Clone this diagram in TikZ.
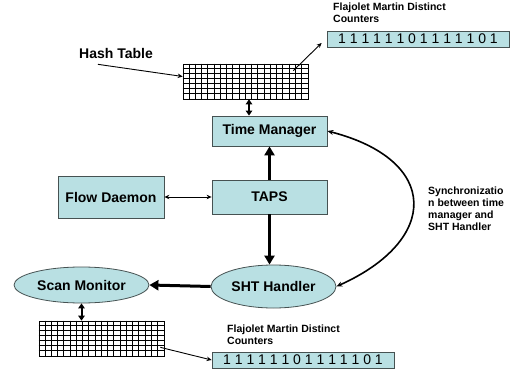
\documentclass[tikz,border=0pt]{standalone}
\usepackage{fontspec}
\setmainfont{Liberation Sans}
\usetikzlibrary{arrows.meta,shapes.geometric}
\definecolor{boxfill}{RGB}{185,224,227}
\definecolor{boxline}{RGB}{70,82,82}
\begin{document}
\begin{tikzpicture}[x=1pt,y=-1pt,
  blk/.style={draw=boxline, fill=boxfill, line width=0.8pt, inner sep=0pt,
    font=\bfseries\fontsize{14}{16}\selectfont},
  ell/.style={ellipse, draw=boxline, fill=boxfill, line width=0.8pt, inner sep=0pt,
    font=\bfseries\fontsize{14}{16}\selectfont},
  cnt/.style={draw=boxline, fill=boxfill, line width=0.8pt, inner sep=0pt,
    minimum width=182pt, minimum height=16pt, font=\fontsize{14}{16}\selectfont},
  gridbox/.style={draw=black, line width=0.7pt, fill=white, inner sep=0pt,
    minimum width=125pt, minimum height=35pt},
  lbl/.style={inner sep=0pt, align=left, anchor=north west,
    font=\bfseries\fontsize{10.5}{12}\selectfont},
  thickarrow/.style={line width=3pt, -{Triangle[length=9pt,width=10pt]}},
  dblarrow/.style={line width=2pt, {Triangle[length=5pt,width=6.5pt]}-{Triangle[length=5pt,width=6.5pt]}},
  thinarrow/.style={line width=0.9pt, -{Stealth[length=5pt,width=4.5pt]}},
  thindbl/.style={line width=0.9pt, {Stealth[length=5pt,width=4.5pt]}-{Stealth[length=5pt,width=4.5pt]}},
  curvearrow/.style={line width=1.6pt, {Stealth[length=6pt,width=5pt]}-{Stealth[length=6pt,width=5pt]}}
]
\useasboundingbox (0,0) rectangle (524,374);

% nodes
\node[blk, minimum width=115pt, minimum height=30pt] (tm) at (269.5,131) {Time Manager};
\node[blk, minimum width=115pt, minimum height=34pt] (taps) at (269.5,197) {TAPS};
\node[blk, minimum width=106pt, minimum height=42pt] (fd) at (111,197) {Flow Daemon};
\node[ell, minimum width=125pt, minimum height=43pt] (sht) at (273.5,286.5) {SHT Handler};
\node[ell, minimum width=135pt, minimum height=36pt] (scan) at (81.5,285) {Scan Monitor};

\node[gridbox] (gridT) at (245.5,81.5) {};
\node[gridbox] (gridB) at (101.5,338.5) {};
\foreach \g in {gridT,gridB}{
  \foreach \i in {1,...,19}
    \draw[line width=0.7pt] ([xshift=\i*6.25pt]\g.north west) -- ([xshift=\i*6.25pt]\g.south west);
  \foreach \j in {1,...,6}
    \draw[line width=0.7pt] ([yshift=-\j*5pt]\g.north west) -- ([yshift=-\j*5pt]\g.north east);
}

\node[cnt] (fmT) at (418,39) {1 1 1 1 1 1 0 1 1 1 1 1 0 1};
\node[cnt] (fmB) at (303,360) {1 1 1 1 1 1 0 1 1 1 1 1 0 1};

% labels
\node[inner sep=0pt, font=\bfseries\fontsize{14}{16}\selectfont] (hash) at (116,53) {Hash Table};
\node[lbl] (fmTl) at (333,3) {Flajolet Martin Distinct\\Counters};
\node[lbl] (fmBl) at (227,325) {Flajolet Martin Distinct\\Counters};
\node[lbl] (sync) at (428,187) {Synchronizatio\\n between time\\manager and\\SHT Handler};

% connectors
\draw[thinarrow] ([xshift=19pt,yshift=-6pt]hash.south west) -- ([yshift=5pt]gridT.west);
\draw[thinarrow] ([xshift=-15pt,yshift=-7pt]gridT.north east) -- ([xshift=-5pt,yshift=-4pt]fmT.west);
\draw[dblarrow] ([xshift=3.5pt]gridT.south) -- ([xshift=3.5pt]gridT.south |- tm.north);
\draw[thickarrow] (taps.north) -- (tm.south);
\draw[thickarrow] (taps.south) -- (taps.south |- sht.north);
\draw[thindbl] (fd.east) -- (taps.west);
\draw[thickarrow] (sht.west) -- (scan.east);
\draw[dblarrow] (scan.south) -- (scan.south |- gridB.north);
\draw[thinarrow] ([xshift=-4pt,yshift=9pt]gridB.south east) -- (fmB.west);
\draw[curvearrow] (tm.east) .. controls (440,160) and (440,240) .. (sht.east);
\end{tikzpicture}
\end{document}
